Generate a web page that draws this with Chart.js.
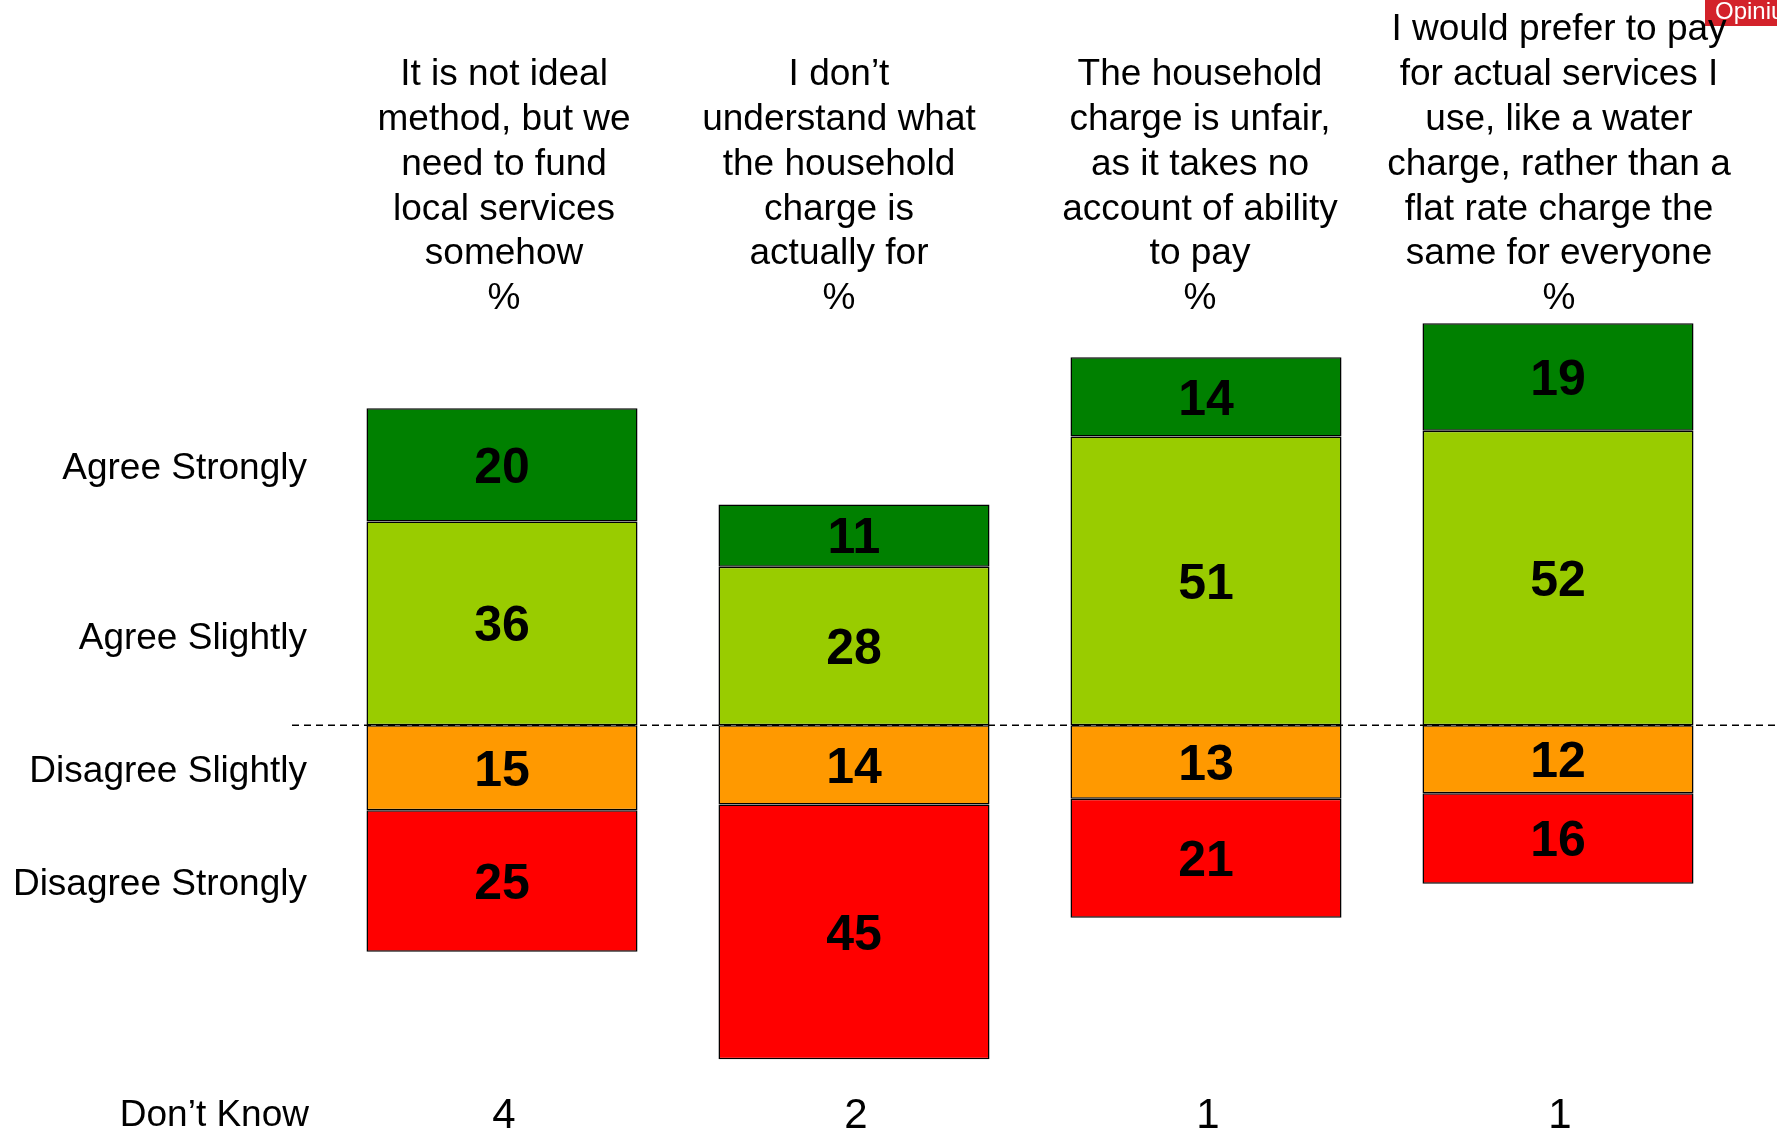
<!DOCTYPE html>
<html>
<head>
<meta charset="utf-8">
<title>Household charge opinions</title>
<script src="https://cdn.jsdelivr.net/npm/chart.js@4.4.0/dist/chart.umd.min.js"></script>
<style>
    html, body { margin: 0; padding: 0; background: #ffffff; }
    #wrap { width: 1777px; height: 1131px; position: relative; }
</style>
</head>
<body>
<div id="wrap"><canvas id="chart" width="1777" height="1131"></canvas></div>
<script>
// Chart values
const categories = ['Fund services', 'Understand', 'Unfair', 'Prefer to pay'];
const headers = [
    ['It is not ideal', 'method, but we', 'need to fund', 'local services', 'somehow', '%'],
    ['I don\u2019t', 'understand what', 'the household', 'charge is', 'actually for', '%'],
    ['The household', 'charge is unfair,', 'as it takes no', 'account of ability', 'to pay', '%'],
    ['I would prefer to pay', 'for actual services I', 'use, like a water', 'charge, rather than a', 'flat rate charge the', 'same for everyone', '%']
];
const agreeStrongly = [20, 11, 14, 19];
const agreeSlightly = [36, 28, 51, 52];
const disagreeSlightly = [15, 14, 13, 12];
const disagreeStrongly = [25, 45, 21, 16];
const dontKnow = [4, 2, 1, 1];

const FONT = '"Liberation Sans", Arial, Helvetica, sans-serif';

// Draws headers, segment values, row labels, baseline and "Don't Know" row
const annotations = {
    id: 'annotations',
    afterDatasetsDraw(chart) {
        const ctx = chart.ctx;
        const x = chart.scales.x;
        const y = chart.scales.y;
        const zero = y.getPixelForValue(0);

        // values in the segments
        ctx.save();
        ctx.fillStyle = '#000';
        ctx.font = 'bold 50px ' + FONT;
        ctx.textAlign = 'center';
        ctx.textBaseline = 'middle';
        chart.data.datasets.forEach((ds, di) => {
            chart.getDatasetMeta(di).data.forEach((el, i) => {
                const mid = (el.y + el.base) / 2;
                ctx.fillText(Math.abs(ds.data[i]), el.x, mid + 4);
            });
        });
        ctx.restore();

        // dashed baseline
        ctx.save();
        ctx.strokeStyle = '#000';
        ctx.lineWidth = 1.5;
        ctx.setLineDash([7, 5]);
        ctx.beginPath();
        ctx.moveTo(292, zero);
        ctx.lineTo(chart.width, zero);
        ctx.stroke();
        ctx.restore();

        // red badge top right
        ctx.save();
        ctx.fillStyle = '#d3222a';
        ctx.fillRect(1705, 0, 80, 26);
        ctx.fillStyle = '#fff';
        ctx.font = '24px ' + FONT;
        ctx.textAlign = 'left';
        ctx.textBaseline = 'middle';
        ctx.fillText('Opinium', 1715, 12);
        ctx.restore();

        // column headers (text blocks sit a little off the bar centres)
        const headerShift = [2, -15, -6, 1];
        ctx.save();
        ctx.fillStyle = '#000';
        ctx.font = '37px ' + FONT;
        ctx.textAlign = 'center';
        ctx.textBaseline = 'middle';
        headers.forEach((lines, i) => {
            const cx = x.getPixelForValue(i) + headerShift[i];
            lines.forEach((line, j) => {
                ctx.fillText(line, cx, 299 - (lines.length - 1 - j) * 44.8);
            });
        });

        // row labels, against the first column
        ctx.textAlign = 'right';
        const a1 = agreeSlightly[0], a2 = agreeStrongly[0];
        const d1 = disagreeSlightly[0], d2 = disagreeStrongly[0];
        const rows = [
            ['Agree Strongly', a1 + a2 / 2],
            ['Agree Slightly', a1 / 2 - 2],
            ['Disagree Slightly', -d1 / 2],
            ['Disagree Strongly', -d1 - d2 / 2]
        ];
        rows.forEach(([txt, v]) => ctx.fillText(txt, 307, y.getPixelForValue(v) + 4));

        // Don't Know row
        ctx.fillText('Don\u2019t Know', 309, 1116);
        ctx.textAlign = 'center';
        ctx.font = '42px ' + FONT;
        dontKnow.forEach((v, i) => ctx.fillText(v, x.getPixelForValue(i) + 2, 1116));
        ctx.restore();
    }
};

const seg = (label, data, color) => ({
    label: label,
    data: data,
    backgroundColor: color,
    borderColor: '#000',
    borderWidth: 1.5,
    borderSkipped: false,
    barPercentage: 0.77,
    categoryPercentage: 1.0
});

new Chart(document.getElementById('chart'), {
    type: 'bar',
    data: {
        labels: categories,
        datasets: [
            seg('Agree Slightly', agreeSlightly, '#99cc00'),
            seg('Agree Strongly', agreeStrongly, '#008000'),
            seg('Disagree Slightly', disagreeSlightly.map(v => -v), '#ff9900'),
            seg('Disagree Strongly', disagreeStrongly.map(v => -v), '#ff0000')
        ]
    },
    options: {
        responsive: false,
        animation: false,
        layout: { padding: { top: 159, bottom: 66, left: 326, right: 43 } },
        plugins: {
            legend: { display: false },
            tooltip: { enabled: false }
        },
        scales: {
            x: { stacked: true, display: false },
            y: { stacked: true, display: false, min: -60, max: 100 }
        }
    },
    plugins: [annotations]
});
</script>
</body>
</html>
